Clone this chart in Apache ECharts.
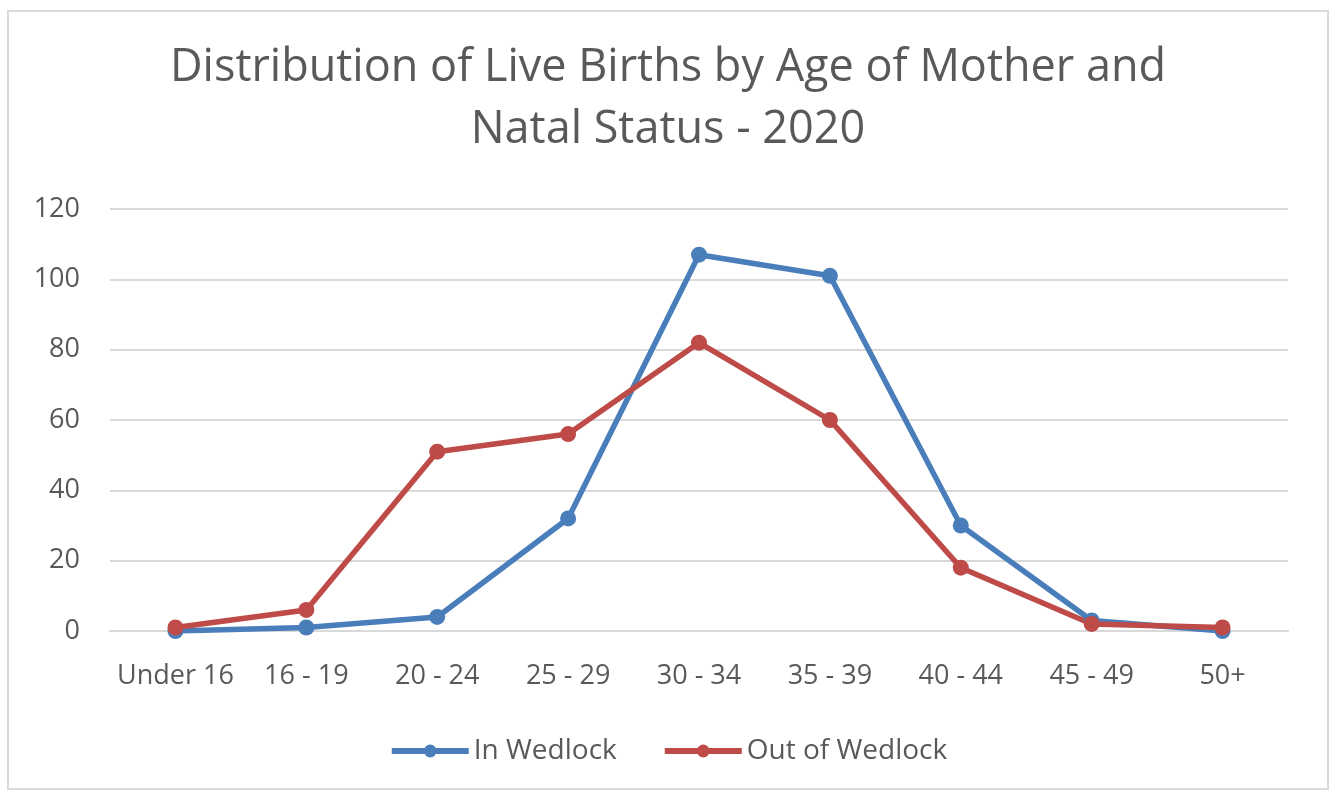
<!DOCTYPE html>
<html>
<head>
<meta charset="utf-8">
<script src="https://cdn.jsdelivr.net/npm/echarts@6/dist/echarts.min.js"></script>
<style>
  html, body { margin: 0; padding: 0; background: #fff; }
  #main {
    position: absolute; left: 7px; top: 10px;
    width: 1322px; height: 780px;
    border: 2px solid #d9d9d9; box-sizing: border-box;
  }
</style>
</head>
<body>
<div id="main"></div>
<script>
// 年龄组
const ageGroups = ['Under 16', '16 - 19', '20 - 24', '25 - 29', '30 - 34', '35 - 39', '40 - 44', '45 - 49', '50+']
const inWedlock = [0, 1, 4, 32, 107, 101, 30, 3, 0]
const outOfWedlock = [1, 6, 51, 56, 82, 60, 18, 2, 1]

const myChart = echarts.init(document.getElementById('main'))
const font = '"Open Sans", "Noto Sans", sans-serif'

function lineSeries(name, data, color) {
    return {
        name: name,
        type: 'line',
        data: data,
        symbol: 'circle',
        symbolSize: 16,
        lineStyle: { width: 5.5, color: color },
        itemStyle: { color: color },
        emphasis: { disabled: true }
    }
}

myChart.setOption({
    animation: false,
    title: {
        text: 'Distribution of Live Births by Age of Mother and\nNatal Status - 2020',
        left: 'center',
        top: 20,
        textStyle: {
            fontFamily: font,
            fontSize: 45,
            fontWeight: 'normal',
            color: '#595959',
            lineHeight: 62
        }
    },
    legend: {
        top: 720,
        left: 'center',
        itemWidth: 77,
        itemHeight: 16,
        itemGap: 45,
        lineStyle: { width: 6 },
        textStyle: { fontFamily: font, fontSize: 28, color: '#595959' },
        data: ['In Wedlock', 'Out of Wedlock']
    },
    grid: { left: 101, right: 39, top: 197, bottom: 157 },
    xAxis: {
        type: 'category',
        data: ageGroups,
        boundaryGap: true,
        axisLine: { lineStyle: { color: '#d9d9d9', width: 2 } },
        axisTick: { show: false },
        axisLabel: { interval: 0, fontFamily: font, fontSize: 27, color: '#595959', margin: 32 }
    },
    yAxis: {
        type: 'value',
        min: 0,
        max: 120,
        interval: 20,
        axisLine: { show: false },
        axisTick: { show: false },
        splitLine: { lineStyle: { color: '#d9d9d9', width: 2 } },
        axisLabel: { fontFamily: font, fontSize: 27, color: '#595959', margin: 30 }
    },
    series: [
        lineSeries('In Wedlock', inWedlock, '#4a7ebb'),
        lineSeries('Out of Wedlock', outOfWedlock, '#be4b48')
    ]
})
</script>
</body>
</html>
